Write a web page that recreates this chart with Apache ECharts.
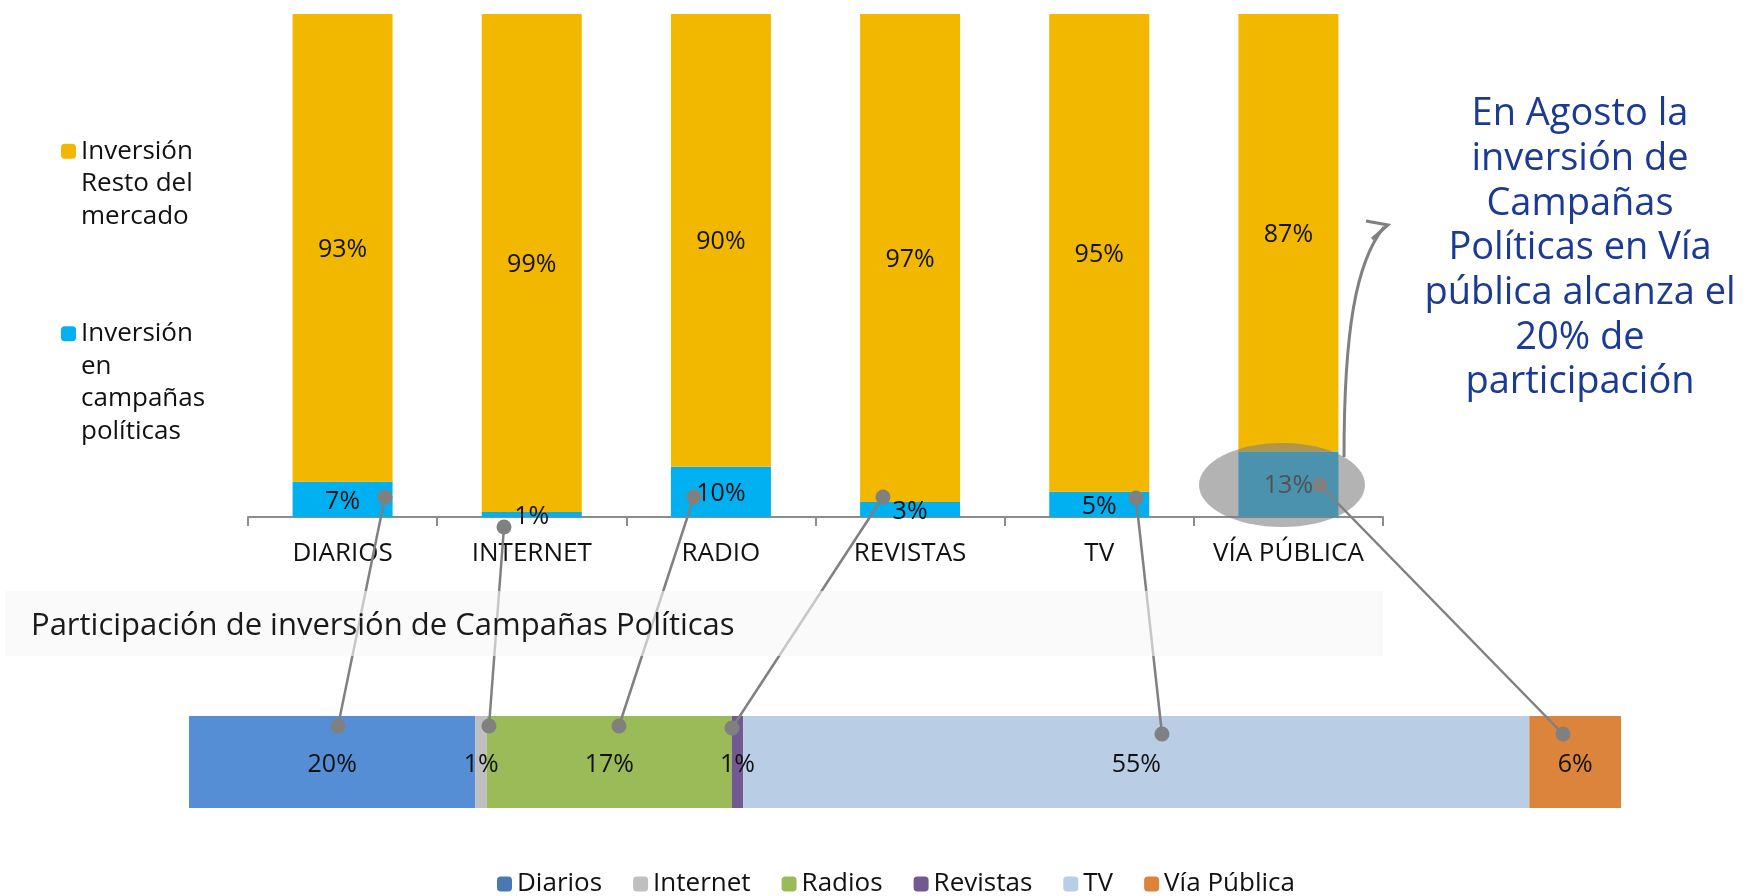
<!DOCTYPE html>
<html>
<head>
<meta charset="utf-8">
<script src="https://cdn.jsdelivr.net/npm/echarts@6/dist/echarts.min.js"></script>
<style>
  html, body { margin: 0; padding: 0; background: #fff; }
  #chart { width: 1752px; height: 896px; }
</style>
</head>
<body>
<div id="chart"></div>
<script>
// datos: participación por medio
const categorias = ['DIARIOS', 'INTERNET', 'RADIO', 'REVISTAS', 'TV', 'VÍA PÚBLICA']
const campanas = [7, 1, 10, 3, 5, 13]
const resto = [93, 99, 90, 97, 95, 87]

const medios = ['Diarios', 'Internet', 'Radios', 'Revistas', 'TV', 'Vía Pública']
const participacion = [20.0, 0.8, 17.1, 0.8, 54.9, 6.4]

const FONT = 'Open Sans'
const coloresMedios = ['#558ED5', '#BFBFBF', '#9BBB59', '#725A91', '#B9CDE5', '#DD843C']
const pct = p => Math.round(p.value) + '%'

const chart = echarts.init(document.getElementById('chart'))

// series de la barra inferior
const seriesMedios = medios.map((m, i) => ({
  name: m,
  type: 'bar',
  xAxisIndex: 1,
  yAxisIndex: 1,
  stack: 'part',
  barWidth: 92,
  itemStyle: { color: coloresMedios[i] },
  label: {
    show: true,
    position: 'inside',
    offset: [0, 3],
    color: '#111',
    fontSize: 25,
    fontFamily: FONT,
    formatter: pct
  },
  data: [participacion[i]]
}))

// conectores (anotación) entre gráfico superior e inferior
const conectores = [
  [[385, 497], [338, 726]],
  [[504, 527], [489, 726]],
  [[694, 497], [619, 726]],
  [[883, 497], [732, 728]],
  [[1136, 498], [1162, 734]],
  [[1320, 485], [1563, 734]]
]
const graficos = []
conectores.forEach(([a, b]) => {
  graficos.push({
    type: 'line', z: 20,
    shape: { x1: a[0], y1: a[1], x2: b[0], y2: b[1] },
    style: { stroke: '#808080', lineWidth: 2.5 }
  })
  graficos.push({ type: 'circle', z: 24, shape: { cx: a[0], cy: a[1], r: 7.5 }, style: { fill: '#808080' } })
  graficos.push({ type: 'circle', z: 24, shape: { cx: b[0], cy: b[1], r: 7.5 }, style: { fill: '#808080' } })
})

// la leyenda centra el texto en el icono: líneas vacías arriba para que el icono quede en la primera línea
const conIconoArriba = txt => {
  const n = txt.split('\n').length
  return '\n'.repeat(n - 1) + txt
}

const etiquetaBarra = { show: true, position: 'inside', offset: [0, 2], color: '#111', fontSize: 25, fontFamily: FONT, formatter: pct }

const option = {
  backgroundColor: '#fff',
  animation: false,
  textStyle: { fontFamily: FONT },
  grid: [
    { left: 248, top: 14, width: 1135, height: 503 },
    { left: 189, top: 716, width: 1432, height: 92 }
  ],
  xAxis: [
    {
      type: 'category',
      gridIndex: 0,
      data: categorias,
      axisLine: { show: true, lineStyle: { color: '#8c8c8c', width: 2 } },
      axisTick: { show: true, interval: 0, length: 9, lineStyle: { color: '#8c8c8c', width: 2 } },
      axisLabel: { interval: 0, color: '#111', fontSize: 26, fontFamily: FONT, margin: 24 }
    },
    { type: 'value', gridIndex: 1, min: 0, max: 100, show: false }
  ],
  yAxis: [
    { type: 'value', gridIndex: 0, min: 0, max: 100, show: false },
    { type: 'category', gridIndex: 1, data: ['Participación'], show: false }
  ],
  legend: [
    {
      orient: 'vertical',
      left: 61,
      top: 70,
      padding: 0,
      itemWidth: 15,
      itemHeight: 15,
      selectedMode: false,
      formatter: () => conIconoArriba('Inversión\nResto del\nmercado'),
      textStyle: { color: '#111', fontSize: 26, lineHeight: 32.5, fontFamily: FONT },
      data: ['Inversión Resto del mercado']
    },
    {
      orient: 'vertical',
      left: 61,
      top: 220,
      padding: 0,
      itemWidth: 15,
      itemHeight: 15,
      selectedMode: false,
      formatter: () => conIconoArriba('Inversión\nen\ncampañas\npolíticas'),
      textStyle: { color: '#111', fontSize: 26, lineHeight: 32.5, fontFamily: FONT },
      data: ['Inversión en campañas políticas']
    },
    {
      orient: 'horizontal',
      left: 497,
      top: 871,
      padding: 0,
      itemWidth: 15,
      itemHeight: 15,
      itemGap: 31,
      selectedMode: false,
      textStyle: { color: '#111', fontSize: 26, fontFamily: FONT },
      data: medios.map((m, i) => i === 0 ? { name: m, itemStyle: { color: '#4A78B2' } } : m)
    }
  ],
  series: [
    {
      name: 'Inversión en campañas políticas',
      type: 'bar',
      stack: 'total',
      barWidth: 100,
      itemStyle: { color: '#00B0F0' },
      label: etiquetaBarra,
      data: campanas
    },
    {
      name: 'Inversión Resto del mercado',
      type: 'bar',
      stack: 'total',
      barWidth: 100,
      itemStyle: { color: '#F2B800' },
      label: etiquetaBarra,
      data: resto
    },
    ...seriesMedios
  ],
  graphic: {
    elements: [
      // recuadro del subtítulo
      {
        type: 'rect', z: 22,
        shape: { x: 5, y: 591, width: 1378, height: 65 },
        style: { fill: 'rgba(246,246,246,0.6)' }
      },
      {
        type: 'text', z: 23, x: 31, y: 626,
        style: {
          text: 'Participación de inversión de Campañas Políticas',
          fill: '#1a1a1a', fontSize: 31, fontFamily: FONT, verticalAlign: 'middle'
        }
      },
      // elipse resaltando Vía Pública
      {
        type: 'ellipse', z: 18,
        shape: { cx: 1282, cy: 485, rx: 83, ry: 42 },
        style: { fill: 'rgba(126,126,126,0.59)' }
      },
      // flecha curva hacia el comentario
      {
        type: 'bezierCurve', z: 19,
        shape: { x1: 1344, y1: 457, cpx1: 1344, cpy1: 330, cpx2: 1356, cpy2: 262, x2: 1384, y2: 227 },
        style: { stroke: '#808080', lineWidth: 3, fill: null }
      },
      {
        type: 'polyline', z: 19,
        shape: { points: [[1366, 221], [1388, 225], [1372, 239]] },
        style: { stroke: '#808080', lineWidth: 3, fill: null }
      },
      {
        type: 'text', z: 19, x: 1580, y: 92,
        style: {
          text: 'En Agosto la\ninversión de\nCampañas\nPolíticas en Vía\npública alcanza el\n20% de\nparticipación',
          fill: '#1B3A94', fontSize: 38, lineHeight: 44.7, fontFamily: FONT, align: 'center'
        }
      },
      ...graficos
    ]
  }
}

chart.setOption(option)
</script>
</body>
</html>
